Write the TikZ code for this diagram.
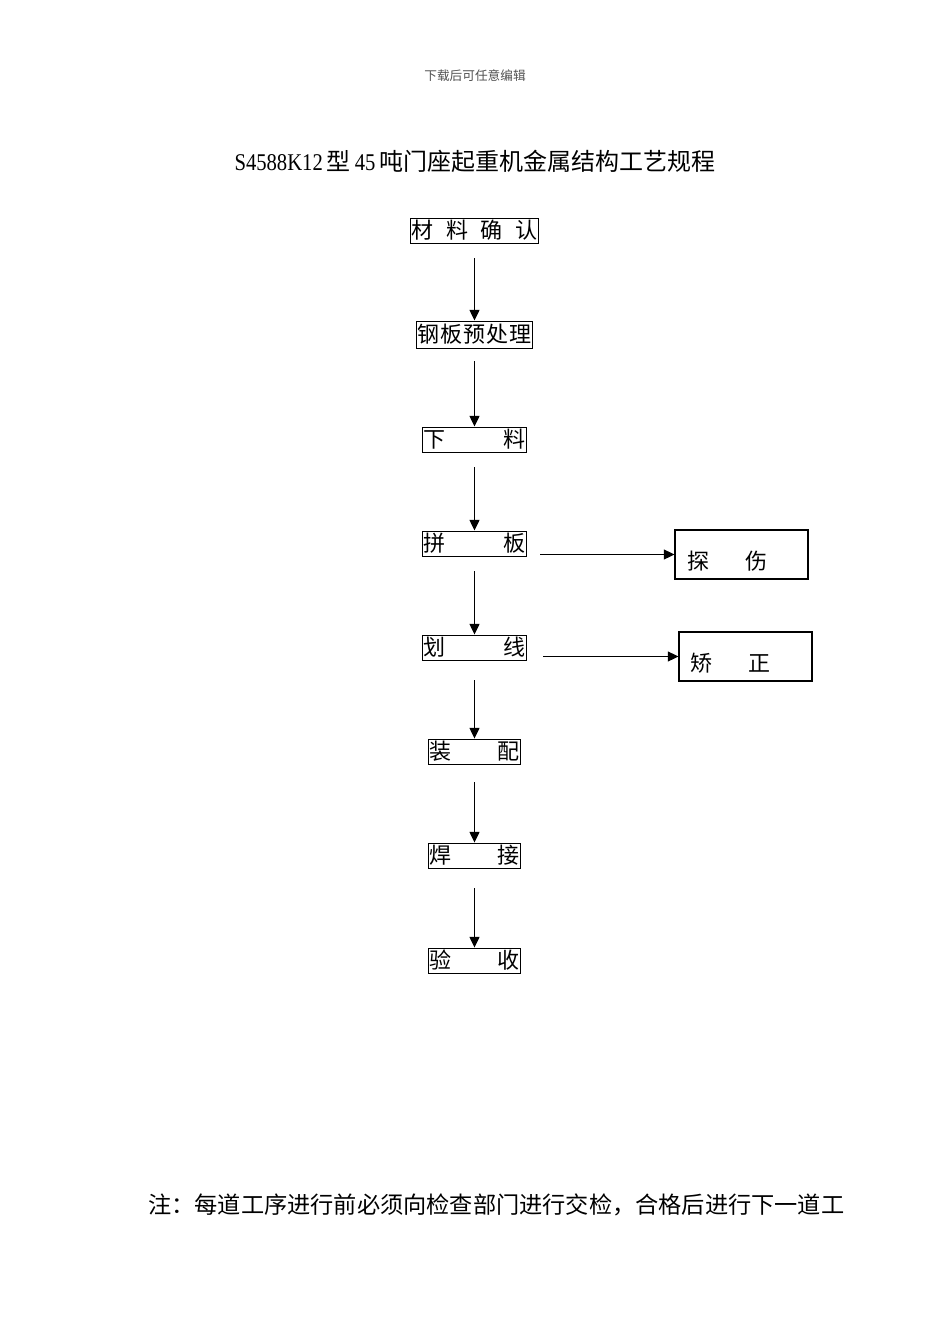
\documentclass[tikz,border=0pt]{standalone}
\usepackage{fontspec}
\setmainfont{Liberation Serif}
\newfontfamily\cjk{Noto Sans CJK SC}
\newfontfamily\titlelatin[FakeStretch=0.86]{Liberation Serif}
\usetikzlibrary{arrows.meta,calc}
\definecolor{hdrgray}{RGB}{80,80,80}
\tikzset{
  box/.style={draw, line width=0.7pt, inner xsep=0.8pt, inner ysep=0pt, align=left,
    font=\cjk\fontsize{16.5}{18}\selectfont},
  sidebox/.style={draw, line width=0.8pt, inner sep=0pt, minimum width=99.75pt, minimum height=36.75pt},
  sidelabel/.style={anchor=west, inner sep=0pt, font=\cjk\fontsize{16.5}{18}\selectfont},
  arr/.style={line width=0.9pt, -{Triangle[length=8pt,width=7.5pt]}}
}
\begin{document}
\begin{tikzpicture}[x=0.75pt,y=-0.75pt]
\path[fill=white] (0,0) rectangle (950,1344);
% header and title
\node[font=\cjk\fontsize{9.5}{11}\selectfont, text=hdrgray] (hdr) at (475,76) {下载后可任意编辑};
\node[font=\cjk\fontsize{18}{20}\selectfont] (title) at (475,161)
  {{\titlelatin S4588K12}\,型\,{\titlelatin 45}\,吨门座起重机金属结构工艺规程};
% main column
\node[box, text width=95pt, minimum height=18.75pt] (b1) at (474.5,230.5) {材\hfill 料\hfill 确\hfill 认};
\node[box, text width=86pt, minimum height=20.25pt] (b2) at (474.5,334.5) {钢\hfill 板\hfill 预\hfill 处\hfill 理};
\node[box, text width=77pt, minimum height=18.75pt] (b3) at (474.5,439.5) {下\hfill 料};
\node[box, text width=77pt, minimum height=18.75pt] (b4) at (474.5,543.5) {拼\hfill 板};
\node[box, text width=77pt, minimum height=18.75pt] (b5) at (474.5,647.5) {划\hfill 线};
\node[box, text width=68pt, minimum height=18.75pt] (b6) at (474.5,751.5) {装\hfill 配};
\node[box, text width=68pt, minimum height=18.75pt] (b7) at (474.5,855.5) {焊\hfill 接};
\node[box, text width=68pt, minimum height=18.75pt] (b8) at (474.5,960.5) {验\hfill 收};
% side boxes
\node[sidebox] (ts) at (741.5,554.5) {};
\node[sidelabel] (tsl) at (687,561) {探\hspace{27pt}伤};
\node[sidebox] (jz) at (745.5,656.5) {};
\node[sidelabel] (jzl) at (690,663) {矫\hspace{27pt}正};
% arrows
\draw[arr, shorten <=11.25pt] (b1.south) -- (b2.north);
\draw[arr, shorten <=9.75pt] (b2.south) -- (b3.north);
\draw[arr, shorten <=11.25pt] (b3.south) -- (b4.north);
\draw[arr, shorten <=11.25pt] (b4.south) -- (b5.north);
\draw[arr, shorten <=15pt] (b5.south) -- (b6.north);
\draw[arr, shorten <=13.5pt] (b6.south) -- (b7.north);
\draw[arr, shorten <=15pt] (b7.south) -- (b8.north);
\draw[arr, shorten <=9.75pt] (b4.east |- ts.west) -- (ts.west);
\draw[arr, shorten <=12pt] (b5.east |- jz.west) -- (jz.west);
% note
\node[anchor=west, inner sep=0pt, font=\cjk\fontsize{17.4}{19}\selectfont] (note) at (148,1205)
  {注：每道工序进行前必须向检查部门进行交检，合格后进行下一道工};
\end{tikzpicture}
\end{document}
